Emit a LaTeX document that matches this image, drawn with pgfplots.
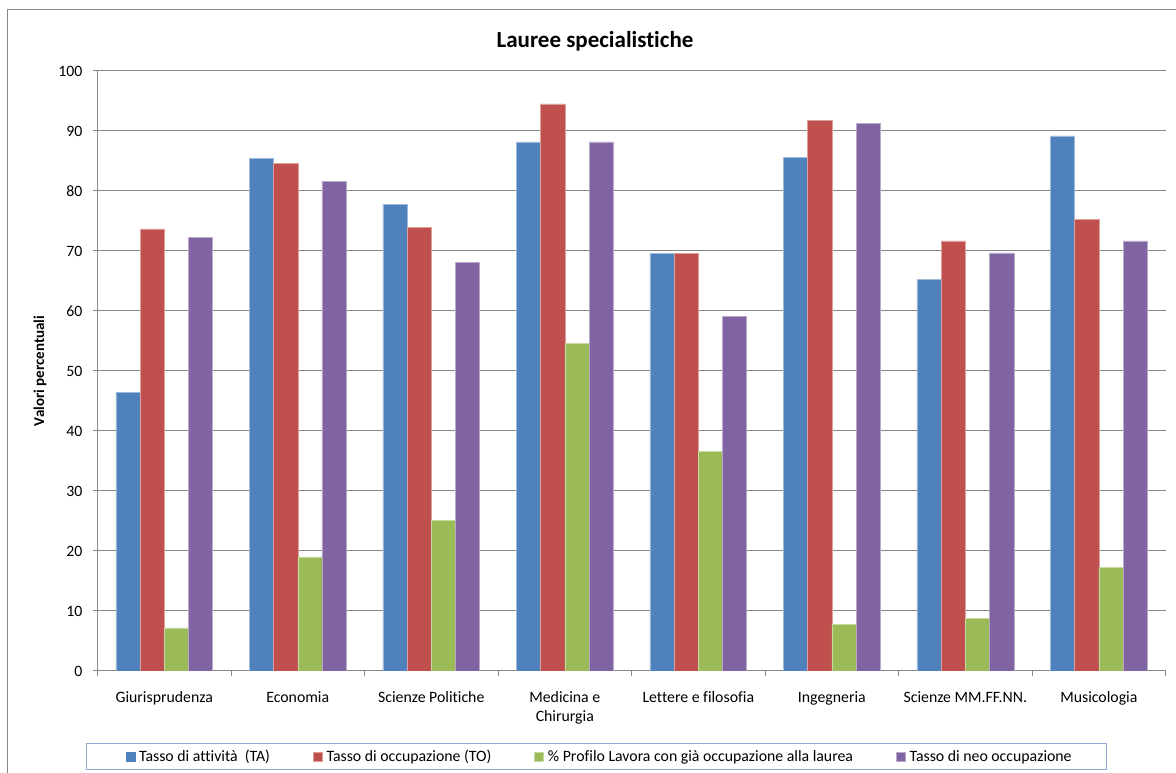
\documentclass[border=0pt]{standalone}
\usepackage{pgfplots}
\pgfplotsset{compat=1.18}
\usepackage{fontspec}
\setmainfont{Carlito}[Ligatures=NoCommon]
\definecolor{cA}{HTML}{4F81BD}
\definecolor{cB}{HTML}{C0504D}
\definecolor{cC}{HTML}{9BBB59}
\definecolor{cD}{HTML}{8064A2}
\definecolor{gridc}{RGB}{134,134,134}
\definecolor{legc}{RGB}{140,170,210}
\begin{document}
\begin{tikzpicture}[x=1pt,y=1pt]
\useasboundingbox (0,0) rectangle (1176,773);
\draw[gridc, line width=1pt] (7.5,0) -- (7.5,763) -- (1176,763);
\node[font=\bfseries\fontsize{23}{27}\selectfont] at (595,732) {Lauree specialistiche};
\begin{axis}[
  at={(97.5pt,102pt)}, anchor=south west,
  scale only axis, width=1068.2pt, height=600pt,
  ybar=0pt, bar width=24.2pt,
  xmin=-0.5, xmax=7.5, ymin=0, ymax=100,
  enlargelimits=false,
  axis lines=left,
  axis line style={-, gridc, line width=1pt},
  tick align=outside,
  tick style={gridc, line width=1pt},
  ytick={0,10,...,100},
  major tick length=4pt,
  ymajorgrids, grid style={gridc, line width=1pt},
  xtick={0,...,7},
  xtick style={draw=none},
  xticklabels={Giurisprudenza, Economia, Scienze Politiche, {Medicina e\\Chirurgia}, Lettere e filosofia, Ingegneria, Scienze MM.FF.NN., Musicologia},
  extra x ticks={-0.5,0.5,...,7.5},
  extra x tick labels={,,,,,,,,},
  extra x tick style={grid=none, xtick style={draw=gridc, line width=1pt}, major tick length=5pt},
  /pgf/number format/assume math mode=true,
  tick label style={font=\fontsize{15.8}{19}\selectfont, text=black},
  xticklabel style={align=center, anchor=north, inner sep=0pt, yshift=-16pt},
  yticklabel style={inner sep=0pt, xshift=-11pt},
  ylabel={Valori percentuali},
  every axis y label/.style={at={(axis description cs:-0.05383,0.5)}, rotate=90, anchor=center, font=\bfseries\fontsize{15}{18}\selectfont},
  legend columns=4,
  legend style={at={(axis description cs:-0.01105,-0.12)}, anchor=north west, draw=legc, line width=1.2pt, inner xsep=17pt, inner ysep=6pt, font=\fontsize{15.8}{18}\selectfont, nodes={inner xsep=0pt, inner ysep=0.5pt}, /tikz/every odd column/.append style={column sep=4pt}, /tikz/every even column/.append style={column sep=43pt}},
  legend cell align=left,
  legend image code/.code={\fill[#1] (0pt,-4.5pt) rectangle (9pt,4.5pt);},
]
\addplot[fill=cA, draw=cA!55!white, line width=0.5pt, legend image code/.code={\path (-22.3pt,0pt); \fill[cA] (0pt,-4.5pt) rectangle (9pt,4.5pt);}] coordinates {(0,46.4) (1,85.4) (2,77.8) (3,88.2) (4,69.6) (5,85.6) (6,65.3) (7,89.2)};
\addplot[fill=cB, draw=cB!55!white, line width=0.5pt] coordinates {(0,73.7) (1,84.6) (2,73.9) (3,94.5) (4,69.6) (5,91.8) (6,71.7) (7,75.3)};
\addplot[fill=cC, draw=cC!55!white, line width=0.5pt] coordinates {(0,7.2) (1,19.0) (2,25.1) (3,54.6) (4,36.6) (5,7.8) (6,8.8) (7,17.3)};
\addplot[fill=cD, draw=cD!55!white, line width=0.5pt] coordinates {(0,72.3) (1,81.6) (2,68.1) (3,88.2) (4,59.1) (5,91.3) (6,69.7) (7,71.7)};
\legend{Tasso di attività\ \ (TA), Tasso di occupazione (TO), \% Profilo Lavora con già occupazione alla laurea, Tasso di neo occupazione\hspace{18pt}\mbox{}}
\end{axis}
\end{tikzpicture}
\end{document}
